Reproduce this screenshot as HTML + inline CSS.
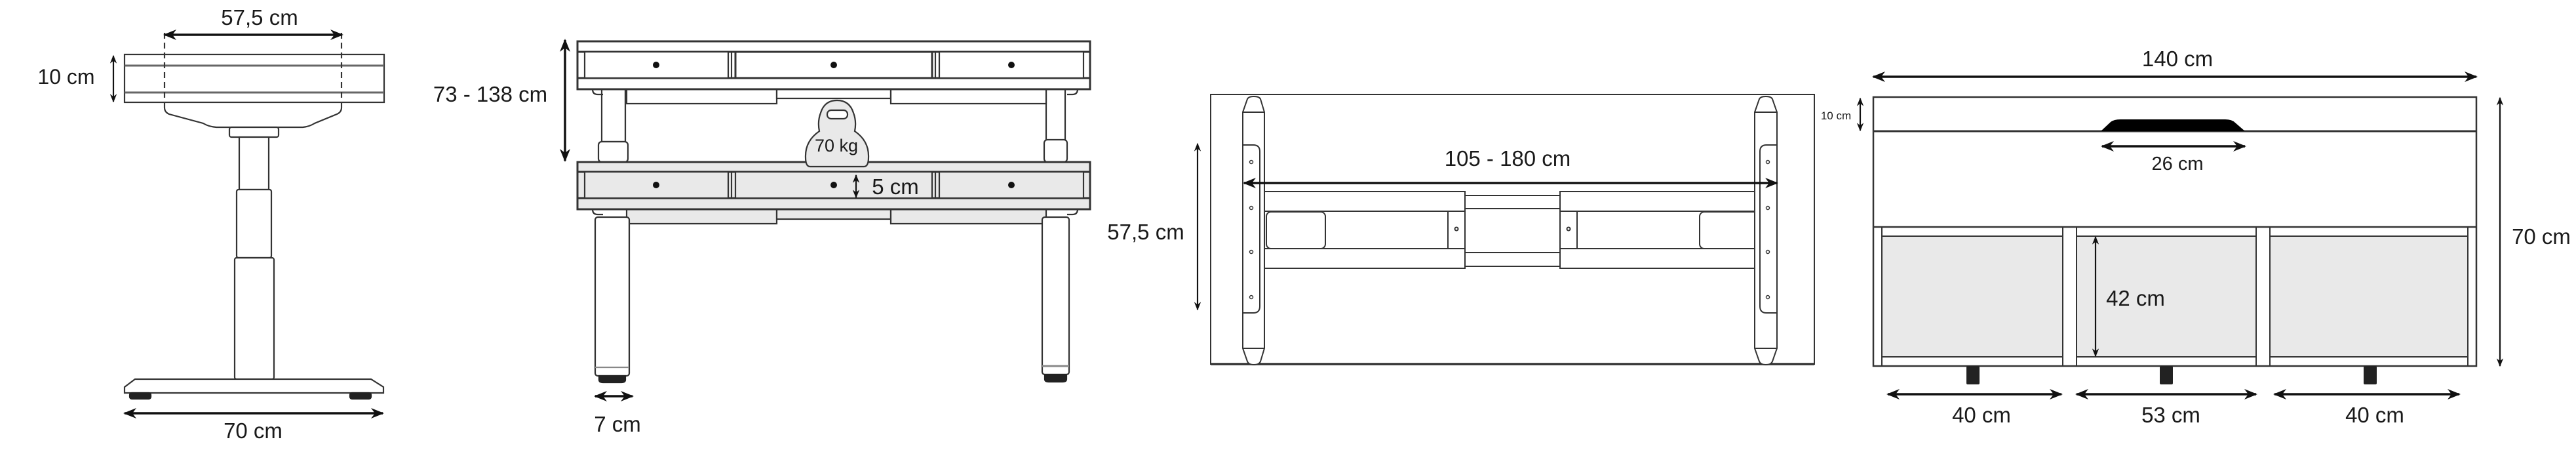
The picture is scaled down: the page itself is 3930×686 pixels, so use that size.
<!DOCTYPE html>
<html><head><meta charset="utf-8"><style>
html,body{margin:0;padding:0;background:#fff;}
svg{display:block;}
text{font-family:"Liberation Sans",sans-serif;fill:#1a1a1a;}
</style></head><body>
<svg width="3930" height="686" viewBox="0 0 3930 686" xmlns="http://www.w3.org/2000/svg">
<defs>
<marker id="ah" viewBox="0 0 20 16" refX="18" refY="8" markerWidth="20" markerHeight="16" markerUnits="userSpaceOnUse" orient="auto-start-reverse">
<path d="M0,0 L20,8 L0,16 L6,8 Z" fill="#111"/>
</marker>
<marker id="as" viewBox="0 0 20 16" refX="18" refY="8" markerWidth="13" markerHeight="11" markerUnits="userSpaceOnUse" orient="auto-start-reverse">
<path d="M0,0 L20,8 L0,16 L6,8 Z" fill="#111"/>
</marker>
</defs>
<g fill="none" stroke="#333" stroke-width="2.2">
<!-- ===== STOOL ===== -->
<rect x="190" y="83" width="396" height="73" fill="#fff"/>
<line x1="190" y1="100" x2="586" y2="100" stroke="#666" stroke-width="3"/>
<line x1="190" y1="141" x2="586" y2="141" stroke="#666" stroke-width="3"/>
<line x1="251" y1="50" x2="251" y2="164" stroke-dasharray="9,6"/>
<line x1="521" y1="50" x2="521" y2="164" stroke-dasharray="9,6"/>
<path d="M251,164 Q251,171 258,174 L310,188 Q318,193 330,194 L462,194 Q472,193 480,188 L514,174 Q521,171 521,164" fill="#fff"/>
<rect x="350" y="194" width="75" height="15" rx="3" fill="#fff"/>
<rect x="365" y="209" width="45" height="80" fill="#fff"/>
<rect x="361" y="289" width="53" height="104" rx="3" fill="#fff"/>
<rect x="358" y="393" width="60" height="185" rx="3" fill="#fff"/>
<path d="M206,578 L566,578 L585,590 L585,599 L190,599 L190,590 Z" fill="#fff"/>
<rect x="198" y="599" width="32" height="9" rx="3" fill="#222" stroke="#222"/>
<rect x="534" y="599" width="32" height="9" rx="3" fill="#222" stroke="#222"/>

<!-- ===== DESK FRONT ===== -->
<!-- lower frame boxes -->
<rect x="956" y="319" width="229" height="22" fill="#e9e9e9"/>
<rect x="1185" y="319" width="174" height="15" fill="#e9e9e9"/>
<rect x="1359" y="319" width="237" height="22" fill="#e9e9e9"/>
<!-- legs lower -->
<rect x="908" y="331" width="52" height="242" rx="4" fill="#fff"/>
<line x1="908" y1="560" x2="960" y2="560" stroke="#888"/>
<path d="M914,573 h40 v6 q0,4 -6,4 h-28 q-6,0 -6,-4 z" fill="#222" stroke="#222"/>
<rect x="1590" y="331" width="41" height="240" rx="4" fill="#fff"/>
<line x1="1590" y1="558" x2="1631" y2="558" stroke="#888" stroke-width="3"/>
<path d="M1594,571 h33 v7 q0,4 -6,4 h-21 q-6,0 -6,-4 z" fill="#222" stroke="#222"/>
<!-- upper legs -->
<rect x="918" y="136" width="36" height="80" fill="#fff"/>
<rect x="913" y="216" width="45" height="31" rx="5" fill="#fff"/>
<rect x="1596" y="136" width="29" height="78" fill="#fff"/>
<rect x="1593" y="213" width="35" height="34" rx="5" fill="#fff"/>
<!-- upper frame boxes -->
<rect x="956" y="136" width="229" height="22" fill="#fff"/>
<rect x="1185" y="136" width="174" height="14" fill="#fff"/>
<rect x="1359" y="136" width="237" height="22" fill="#fff"/>
<path d="M904,136 q0,8 8,8 h8" /><path d="M1644,136 q0,8 -8,8 h-8"/>
<path d="M904,319 q0,8 8,8 h8" /><path d="M1644,319 q0,8 -8,8 h-8"/>
<!-- top desk -->
<rect x="881" y="63" width="782" height="73" fill="#fff" stroke-width="3"/>
<line x1="881" y1="79" x2="1663" y2="79" stroke-width="3"/>
<line x1="881" y1="119" x2="1663" y2="119" stroke-width="3"/>
<rect x="892" y="79" width="219" height="40" fill="#fff"/>
<rect x="1122" y="79" width="300" height="40" fill="#fff" stroke-width="3"/>
<rect x="1433" y="79" width="220" height="40" fill="#fff"/>
<line x1="1116" y1="79" x2="1116" y2="119"/><line x1="1427" y1="79" x2="1427" y2="119"/>
<!-- lower desk -->
<rect x="881" y="247" width="782" height="72" fill="#e9e9e9" stroke-width="3"/>
<line x1="881" y1="262" x2="1663" y2="262" stroke-width="3"/>
<line x1="881" y1="302" x2="1663" y2="302" stroke-width="3"/>
<rect x="892" y="262" width="219" height="40" fill="#e9e9e9"/>
<rect x="1122" y="262" width="300" height="40" fill="#e9e9e9"/>
<rect x="1433" y="262" width="220" height="40" fill="#e9e9e9"/>
<line x1="1116" y1="262" x2="1116" y2="302"/><line x1="1427" y1="262" x2="1427" y2="302"/>
<!-- weight -->
<path d="M1250,200 Q1247,185 1252,172 Q1258,153 1277,153 Q1296,153 1302,172 Q1307,185 1304,200 Q1326,215 1325,240 Q1325,254 1318,254 L1236,254 Q1229,254 1229,240 Q1228,215 1250,200 Z" fill="#e9e9e9"/>
<rect x="1262" y="168" width="31" height="13" rx="6" fill="#fff"/>
</g>
<g fill="#111">
<circle cx="1001" cy="99" r="5"/><circle cx="1272" cy="99" r="5"/><circle cx="1543" cy="99" r="5"/>
<circle cx="1001" cy="282" r="5"/><circle cx="1272" cy="282" r="5"/><circle cx="1543" cy="282" r="5"/>
</g>

<!-- ===== TOP VIEW ===== -->
<g fill="none" stroke="#333" stroke-width="2">
<rect x="1847" y="144" width="921" height="411"/>
<line x1="1847" y1="555" x2="2768" y2="555" stroke-width="3.5"/>
<!-- frame -->
<rect x="1923" y="292" width="312" height="30" fill="#fff"/>
<rect x="1923" y="322" width="312" height="57" fill="#fff"/>
<rect x="1932" y="323" width="90" height="56" rx="7"/>
<line x1="2209" y1="322" x2="2209" y2="379"/>
<circle cx="2222" cy="349" r="2.5"/>
<rect x="1923" y="379" width="312" height="30" fill="#fff"/>
<rect x="2235" y="298" width="145" height="20" fill="#fff"/>
<rect x="2235" y="385" width="145" height="21" fill="#fff"/>
<rect x="2380" y="292" width="312" height="30" fill="#fff"/>
<rect x="2380" y="322" width="312" height="57" fill="#fff"/>
<rect x="2593" y="323" width="90" height="56" rx="7"/>
<line x1="2406" y1="322" x2="2406" y2="379"/>
<circle cx="2393" cy="349" r="2.5"/>
<rect x="2380" y="379" width="312" height="30" fill="#fff"/>
<!-- left rail -->
<path d="M1896,171 L1903,151 Q1905,147 1913,147 Q1921,147 1923,151 L1929,171 L1929,531 L1923,551 Q1921,556 1913,556 Q1905,556 1903,551 L1896,531 Z" fill="#fff"/>
<line x1="1896" y1="171" x2="1929" y2="171"/><line x1="1896" y1="531" x2="1929" y2="531"/>
<path d="M1896,221 L1912,221 Q1922,221 1922,231 L1922,467 Q1922,477 1912,477 L1896,477"/>
<!-- right rail -->
<path d="M2677,171 L2684,151 Q2686,147 2694,147 Q2702,147 2704,151 L2711,171 L2711,531 L2704,551 Q2702,556 2694,556 Q2686,556 2684,551 L2677,531 Z" fill="#fff"/>
<line x1="2677" y1="171" x2="2711" y2="171"/><line x1="2677" y1="531" x2="2711" y2="531"/>
<path d="M2711,221 L2695,221 Q2685,221 2685,231 L2685,467 Q2685,477 2695,477 L2711,477"/>
<g stroke-width="1.5">
<circle cx="1909" cy="247" r="2.5"/><circle cx="1909" cy="317" r="2.5"/><circle cx="1909" cy="384" r="2.5"/><circle cx="1909" cy="453" r="2.5"/>
<circle cx="2697" cy="247" r="2.5"/><circle cx="2697" cy="317" r="2.5"/><circle cx="2697" cy="384" r="2.5"/><circle cx="2697" cy="453" r="2.5"/>
</g>
</g>

<!-- ===== BENCH VIEW ===== -->
<g fill="none" stroke="#333" stroke-width="2.5">
<rect x="2858" y="148" width="920" height="410" fill="#fff"/>
<line x1="2858" y1="200" x2="3778" y2="200" stroke-width="3"/>
<line x1="2858" y1="346" x2="3778" y2="346"/>
<rect x="2871" y="360" width="276" height="184" fill="#e9e9e9" stroke-width="2"/>
<rect x="3168" y="360" width="274" height="184" fill="#e9e9e9" stroke-width="2"/>
<rect x="3463" y="360" width="302" height="184" fill="#e9e9e9" stroke-width="2"/>
<line x1="2871" y1="346" x2="2871" y2="558" stroke-width="2"/>
<line x1="3147" y1="346" x2="3147" y2="558" stroke-width="2"/>
<line x1="3168" y1="346" x2="3168" y2="558" stroke-width="2"/>
<line x1="3442" y1="346" x2="3442" y2="558" stroke-width="2"/>
<line x1="3463" y1="346" x2="3463" y2="558" stroke-width="2"/>
<line x1="3765" y1="346" x2="3765" y2="558" stroke-width="2"/>
</g>
<path d="M3205,200 L3220,186 Q3225,182 3235,182 L3395,182 Q3405,182 3410,187 L3425,200 Z" fill="#000"/>
<g fill="#222">
<rect x="3000" y="558" width="20" height="28" rx="2"/>
<rect x="3295" y="558" width="20" height="28" rx="2"/>
<rect x="3606" y="558" width="20" height="28" rx="2"/>
</g>

<!-- ===== DIMENSION ARROWS ===== -->
<g stroke="#111" stroke-width="3.5" marker-start="url(#ah)" marker-end="url(#ah)" fill="none">
<line x1="251" y1="53" x2="522" y2="53"/>
<line x1="190" y1="630" x2="584" y2="630"/>
<line x1="862" y1="61" x2="862" y2="245"/>
<line x1="908" y1="604" x2="965" y2="604"/>
<line x1="1898" y1="279" x2="2711" y2="279"/>
<line x1="2858" y1="117" x2="3778" y2="117"/>
<line x1="3207" y1="223" x2="3425" y2="223"/>
<line x1="2880" y1="601" x2="3145" y2="601"/>
<line x1="3168" y1="601" x2="3442" y2="601"/>
<line x1="3470" y1="601" x2="3752" y2="601"/>
</g>
<g stroke="#111" stroke-width="2.2" marker-start="url(#as)" marker-end="url(#as)" fill="none">
<line x1="173" y1="85" x2="173" y2="155"/>
<line x1="1306" y1="267" x2="1306" y2="301"/>
<line x1="1827" y1="219" x2="1827" y2="472"/>
<line x1="2838" y1="150" x2="2838" y2="199"/>
<line x1="3197" y1="361" x2="3197" y2="543"/>
<line x1="3814" y1="149" x2="3814" y2="558"/>
</g>

<!-- ===== LABELS ===== -->
<g font-size="33" text-anchor="middle">
<text x="396" y="38">57,5 cm</text>
<text x="101" y="128" font-size="32">10 cm</text>
<text x="386" y="668">70 cm</text>
<text x="748" y="155">73 - 138 cm</text>
<text x="942" y="658">7 cm</text>
<text x="1276" y="231" font-size="27">70 kg</text>
<text x="1366" y="296">5 cm</text>
<text x="2300" y="253">105 - 180 cm</text>
<text x="1748" y="365">57,5 cm</text>
<text x="3322" y="101">140 cm</text>
<text x="3322" y="259" font-size="29">26 cm</text>
<text x="2801" y="182" font-size="17">10 cm</text>
<text x="3258" y="466">42 cm</text>
<text x="3877" y="372">70 cm</text>
<text x="3023" y="644">40 cm</text>
<text x="3312" y="644">53 cm</text>
<text x="3623" y="644">40 cm</text>
</g>
</svg>
</body></html>
